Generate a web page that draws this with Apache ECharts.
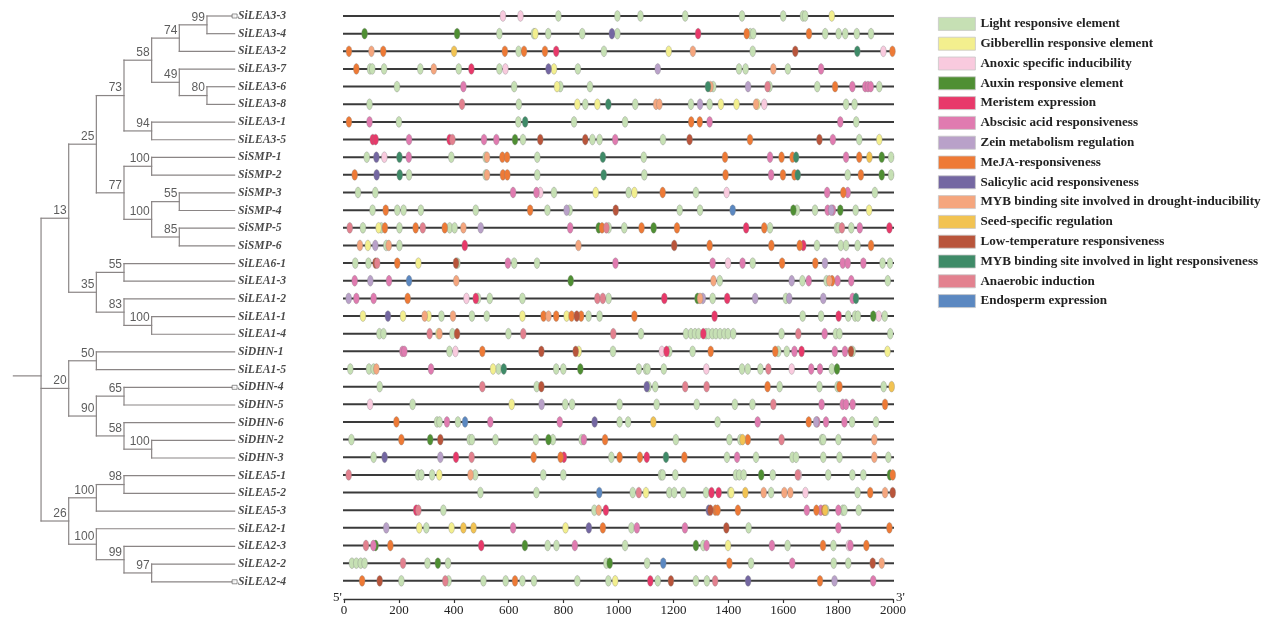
<!DOCTYPE html>
<html><head><meta charset="utf-8">
<script src="https://cdn.jsdelivr.net/npm/echarts@6/dist/echarts.min.js"></script>
<style>html,body{margin:0;padding:0;background:#fff}#c{width:1271px;height:617px}</style>
</head><body><div id="c"></div>
<script>
// ---------------- DATA ----------------
const genes = ['SiLEA3-3','SiLEA3-4','SiLEA3-2','SiLEA3-7','SiLEA3-6','SiLEA3-8','SiLEA3-1','SiLEA3-5',
  'SiSMP-1','SiSMP-2','SiSMP-3','SiSMP-4','SiSMP-5','SiSMP-6','SiLEA6-1','SiLEA1-3','SiLEA1-2','SiLEA1-1',
  'SiLEA1-4','SiDHN-1','SiLEA1-5','SiDHN-4','SiDHN-5','SiDHN-6','SiDHN-2','SiDHN-3','SiLEA5-1','SiLEA5-2',
  'SiLEA5-3','SiLEA2-1','SiLEA2-3','SiLEA2-2','SiLEA2-4'];

const typeCodes = ['L','G','X','A','M','B','Z','J','S','D','E','T','Y','N','O'];
const typeNames = ['Light responsive element','Gibberellin responsive element','Anoxic specific inducibility',
  'Auxin responsive element','Meristem expression','Abscisic acid responsiveness','Zein metabolism regulation',
  'MeJA-responsiveness','Salicylic acid responsiveness','MYB binding site involved in drought-inducibility',
  'Seed-specific regulation','Low-temperature responsiveness','MYB binding site involved in light responsiveness',
  'Anaerobic induction','Endosperm expression'];

// tree topology with bootstrap values (Newick)
const treeNewick = "(((((((SiLEA3-3,SiLEA3-4)99,SiLEA3-2)74,(SiLEA3-7,(SiLEA3-6,SiLEA3-8)80)49)58,(SiLEA3-1,SiLEA3-5)94)73,((SiSMP-1,SiSMP-2)100,((SiSMP-3,SiSMP-4)55,(SiSMP-5,SiSMP-6)85)100)77)25,((SiLEA6-1,SiLEA1-3)55,(SiLEA1-2,(SiLEA1-1,SiLEA1-4)100)83)35)13,((SiDHN-1,SiLEA1-5)50,((SiDHN-4,SiDHN-5)65,(SiDHN-6,(SiDHN-2,SiDHN-3)100)58)90)20,(((SiLEA5-1,SiLEA5-2)98,SiLEA5-3)100,(SiLEA2-1,(SiLEA2-3,(SiLEA2-2,SiLEA2-4)97)99)100)26);";
const markedGenes = ['SiLEA3-3','SiDHN-4','SiLEA2-4'];

const axisMin = 0, axisMax = 2000, axisStep = 200;
const endLabels = ["5'", "3'"];

// element positions per gene (type code + position in bp)
const SiLEA3_3 = "X579 X643 L781 L996 L1080 L1243 L1450 L1600 L1672 L1680 G1777";
const SiLEA3_4 = "A75 A412 L566 L692 G697 L744 L868 S976 L996 M1290 J1467 L1480 L1491 J1694 L1753 L1802 L1826 L1868 L1920";
const SiLEA3_2 = "J18 D100 J143 E401 J586 L636 J656 J732 M773 L947 G1183 D1271 L1489 T1644 Y1870 X1965 J1998";
const SiLEA3_7 = "J45 L95 L103 L146 L278 D327 L418 M464 L566 X588 S745 G765 L852 Z1143 L1439 L1463 D1564 L1617 B1738";
const SiLEA3_6 = "L193 B435 L620 G776 L788 L896 Y1326 D1335 L1345 Z1472 N1543 L1550 L1724 J1789 B1852 B1899 B1909 B1919 L1950";
const SiLEA3_8 = "L93 N430 L637 G850 L879 G923 Y963 L1061 D1137 D1149 L1264 Z1297 L1332 G1373 G1430 D1501 G1506 X1531 L1829 L1860";
const SiLEA3_1 = "J18 B93 L200 L635 Y660 L838 L1024 J1265 J1296 B1332 B1808 L1866";
const SiLEA3_5 = "M105 M115 B237 M385 N395 B510 B555 A623 L652 T715 T879 L905 L931 B988 L1162 T1259 J1479 T1732 B1781 L1877 G1950";
const SiSMP_1 = "L83 S118 X147 Y202 B236 L391 L516 D521 J577 J594 L704 Y943 L1092 J1388 B1552 J1594 J1634 Y1647 B1829 J1877 E1914 A1959 L1993";
const SiSMP_2 = "J39 S119 Y203 L237 L516 D521 J579 J595 L704 Y946 L1094 J1390 B1556 J1599 J1641 Y1653 L1835 J1883 A1959 L1993";
const SiSMP_3 = "L51 L114 B616 B701 X715 L765 G917 L1037 G1058 J1161 L1282 X1394 B1760 J1819 B1835 L1934";
const SiSMP_4 = "L104 J152 L194 L217 L280 L480 J678 L741 Z811 L822 T990 L1223 L1297 O1416 A1637 L1650 L1716 B1762 Z1775 B1781 A1808 L1864 G1913";
const SiSMP_5 = "N21 L69 G126 L136 J149 L202 J261 N287 J367 L385 L403 D435 Z498 B824 A928 J940 N956 L964 L1021 J1084 A1128 J1213 M1465 J1531 L1552 L1796 L1802 N1814 L1848 B1879 M1987";
const SiSMP_6 = "D58 G87 Z114 L154 D163 L202 M440 D854 T1203 J1332 J1557 J1660 M1673 L1723 L1810 L1829 L1871 J1920";
const SiLEA6_1 = "L41 L89 T115 N121 J194 G271 T408 L413 B597 L620 L703 B989 B1343 X1399 B1452 L1489 J1596 J1717 Z1752 B1817 B1835 B1892 L1962 L1989";
const SiLEA1_3 = "B39 Z96 B164 O237 D409 A826 D1346 L1369 Z1631 L1670 B1693 L1758 D1768 J1778 B1798 B1848 L1981";
const SiLEA1_2 = "Z17 B45 B108 J232 X446 M480 L488 L531 L650 N923 N943 L964 M1167 A1288 D1297 Z1307 L1343 M1396 Z1498 L1610 Z1622 Z1746 B1853 Y1865";
const SiLEA1_1 = "G69 S160 G215 D294 G308 L355 D397 L466 L520 G650 J727 D745 J773 G811 J829 T848 J864 L891 L931 J1058 M1350 L1671 L1738 M1802 L1837 L1862 L1872 A1928 X1948 L1970";
const SiLEA1_4 = "L129 L144 N312 G344 D348 L395 T412 L599 N653 N981 L1082 L1246 L1264 L1279 L1292 M1309 L1319 L1328 L1342 L1355 L1370 L1386 L1399 L1418 L1594 N1655 B1751 L1792 L1805 L1990";
const SiDHN_1 = "B213 B220 L384 X406 J504 T719 T844 G855 L980 X1158 M1175 L1185 L1270 J1336 J1571 L1582 L1613 B1641 M1667 B1788 B1825 T1847 L1853 G1980";
const SiLEA1_5 = "L23 L91 L108 D118 B317 G543 L563 Y582 L773 L799 A861 L1074 L1100 L1106 L1165 X1320 L1450 L1471 L1517 N1546 X1631 B1702 B1734 L1777 A1796";
const SiDHN_4 = "L130 N504 L702 T719 S1103 L1109 L1134 N1243 N1321 J1543 L1587 L1732 L1798 J1805 L1966 E1995";
const SiDHN_5 = "X95 L250 G611 Z720 L806 L831 L1004 L1139 L1285 L1424 L1488 N1564 B1740 B1817 B1829 B1853 J1971";
const SiDHN_6 = "J191 L339 L348 B375 L415 O441 B533 B786 S913 L1004 L1035 E1127 L1361 B1507 J1693 Z1720 B1724 B1756 B1823 L1851 L1938";
const SiDHN_2 = "L27 J209 A314 T351 L458 L466 L552 L699 A745 L761 L866 B874 J951 L1209 L1404 L1444 E1452 J1471 N1594 L1741 L1746 L1801 D1932";
const SiDHN_3 = "L108 S148 Z351 M408 N465 J691 J789 M801 L974 J1004 J1078 M1103 Y1173 J1240 L1395 B1432 L1501 L1634 L1647 L1746 L1805 D1932 L1983";
const SiLEA5_1 = "N17 L270 L282 L321 G347 D461 L478 L726 L799 L1155 L1161 L1207 L1428 L1440 L1456 A1520 L1562 N1653 X1657 L1764 L1852 L1892 A1989 J1999";
const SiLEA5_2 = "L497 L701 O930 L1052 N1074 G1100 L1185 L1203 L1236 L1319 M1339 M1365 L1407 G1411 E1462 D1529 L1556 D1604 D1626 X1681 L1871 J1917 D1971 T1999";
const SiLEA5_3 = "M263 N271 L362 L912 D928 M954 S1329 T1335 J1353 J1361 J1435 B1686 J1721 B1737 J1749 E1753 L1757 B1801 L1817 L1823 L1875";
const SiLEA2_1 = "Z154 G274 L300 G392 E435 E472 B616 G807 S892 J943 L1047 B1067 B1242 T1393 L1474 B1801 J1987";
const SiLEA2_3 = "N80 B107 A115 J169 M500 A659 L742 L774 B841 L1024 A1282 L1309 B1321 G1399 B1559 L1616 J1745 L1783 X1839 B1845 J1903";
const SiLEA2_2 = "L29 L45 L61 L75 N215 L304 A342 L379 L956 A968 L1104 O1163 J1404 L1483 B1633 L1784 L1837 T1926 D1959";
const SiLEA2_4 = "J66 T130 L209 N369 L381 L508 L589 J623 L650 L692 L850 L963 G988 M1116 L1143 T1191 L1282 L1322 N1352 S1472 J1734 Z1787 B1928";

const geneElements = [SiLEA3_3,SiLEA3_4,SiLEA3_2,SiLEA3_7,SiLEA3_6,SiLEA3_8,SiLEA3_1,SiLEA3_5,
  SiSMP_1,SiSMP_2,SiSMP_3,SiSMP_4,SiSMP_5,SiSMP_6,SiLEA6_1,SiLEA1_3,SiLEA1_2,SiLEA1_1,SiLEA1_4,
  SiDHN_1,SiLEA1_5,SiDHN_4,SiDHN_5,SiDHN_6,SiDHN_2,SiDHN_3,SiLEA5_1,SiLEA5_2,SiLEA5_3,
  SiLEA2_1,SiLEA2_3,SiLEA2_2,SiLEA2_4];

// ---------------- STYLE ----------------
const typeColors = ['#c6e0b4','#f3ef8e','#f9cade','#4f8f33','#e8396a','#e07bb0','#b9a1c9','#ee7a36',
  '#7467a2','#f5a67e','#f2c352','#b9553b','#3f8b68','#e3818f','#5b88c1'];
const SERIF = "'Liberation Serif','DejaVu Serif',serif";
const SANS = "'Liberation Sans',Arial,sans-serif";
const treeColor = '#8a8585';

// ---------------- TREE LAYOUT ----------------
function parseNewick(s){
  let i = 0;
  function node(){
    const n = {children: [], name: ''};
    if (s[i] === '('){
      i++;
      n.children.push(node());
      while (s[i] === ','){ i++; n.children.push(node()); }
      i++;
    }
    let t = '';
    while (i < s.length && !',();'.includes(s[i])) t += s[i++];
    n.name = t;
    return n;
  }
  return node();
}
const root = parseNewick(treeNewick);
const LEAF_DEPTH = 7;
const segs = [], boots = [], leaves = [];
function layout(n, depth){
  if (!n.children.length){
    n.x = LEAF_DEPTH; n.y = genes.indexOf(n.name);
    leaves.push([n.x, n.y, n.name]);
    return;
  }
  n.x = depth;
  n.children.forEach(c => layout(c, depth + 1));
  const ys = n.children.map(c => c.y);
  n.y = ys.reduce((a, b) => a + b, 0) / ys.length;
  segs.push([n.x, Math.min(...ys), n.x, Math.max(...ys)]);
  n.children.forEach(c => segs.push([n.x, c.y, c.x, c.y]));
  if (n.name) boots.push([n.x, n.y, n.name]);
}
layout(root, 0);
segs.push([-1, root.y, 0, root.y]);
const marks = leaves.filter(l => markedGenes.includes(l[2])).map(l => [l[0], l[1]]);

// ---------------- ELEMENT SERIES ----------------
const byType = typeCodes.map(() => []);
geneElements.forEach((str, row) => {
  str.trim().split(/\s+/).forEach(tok => {
    const k = typeCodes.indexOf(tok[0]);
    byType[k].push([+tok.slice(1), row]);
  });
});
const geneLines = genes.map((g, i) => [axisMin, i, axisMax, i]);

function lineItem(color, width){
  return function(params, api){
    const p1 = api.coord([api.value(0), api.value(1)]);
    const p2 = api.coord([api.value(2), api.value(3)]);
    return {type: 'line', shape: {x1: p1[0], y1: p1[1], x2: p2[0], y2: p2[1]},
      style: {stroke: color, lineWidth: width, lineCap: 'square'}};
  };
}

const yMax = 33.03;
const option = {
  animation: false,
  backgroundColor: '#fff',
  grid: [
    {left: 13.4, top: 16, width: 221.2, height: 584},
    {left: 344, top: 16, width: 549, height: 584}
  ],
  xAxis: [
    {gridIndex: 0, type: 'value', min: -1, max: LEAF_DEPTH, show: false},
    {gridIndex: 1, type: 'value', position: 'bottom', min: axisMin, max: axisMax, interval: axisStep,
      axisLine: {onZero: false, lineStyle: {color: '#333', width: 1.3}},
      axisTick: {length: 4, lineStyle: {color: '#333', width: 1.2}},
      axisLabel: {fontFamily: SERIF, fontSize: 13, color: '#222', margin: 5, formatter: v => String(v)},
      splitLine: {show: false}}
  ],
  yAxis: [
    {gridIndex: 0, type: 'value', min: 0, max: yMax, inverse: true, show: false},
    {gridIndex: 1, type: 'value', min: 0, max: yMax, inverse: true, show: false}
  ],
  legend: {
    data: typeNames, orient: 'vertical', left: 938, top: 17, padding: 0, itemWidth: 37, itemHeight: 13, itemGap: 6.0,
    icon: 'rect', selectedMode: false,
    itemStyle: {borderColor: '#c8c8c8', borderWidth: 0.8},
    textStyle: {fontFamily: SERIF, fontWeight: 'bold', fontSize: 13.1, color: '#222', lineHeight: 13}
  },
  graphic: [
    {type: 'text', left: 333, top: 591, style: {text: endLabels[0], font: "13px 'Liberation Serif'", fill: '#222'}},
    {type: 'text', left: 896, top: 591, style: {text: endLabels[1], font: "13px 'Liberation Serif'", fill: '#222'}}
  ],
  series: [
    {type: 'custom', xAxisIndex: 0, yAxisIndex: 0, data: segs, silent: true,
      encode: {x: [0, 2], y: [1, 3]}, renderItem: lineItem(treeColor, 1.2)},
    {type: 'scatter', xAxisIndex: 0, yAxisIndex: 0, data: boots, silent: true, symbolSize: 1,
      itemStyle: {color: 'rgba(0,0,0,0)'},
      label: {show: true, position: [-1.5, -1], align: 'right', verticalAlign: 'bottom',
        formatter: p => p.value[2], fontFamily: SANS, fontSize: 12, color: '#333'}},
    {type: 'scatter', xAxisIndex: 0, yAxisIndex: 0, data: leaves, silent: true, symbolSize: 1,
      itemStyle: {color: 'rgba(0,0,0,0)'},
      label: {show: true, position: 'right', distance: 3, formatter: p => p.value[2],
        fontFamily: SERIF, fontStyle: 'italic', fontWeight: 'bold', fontSize: 11.7, color: '#1a1a1a'}},
    {type: 'scatter', xAxisIndex: 0, yAxisIndex: 0, data: marks, silent: true, symbol: 'rect',
      symbolSize: [5, 4], itemStyle: {color: '#fff', borderColor: '#555', borderWidth: 0.8}, z: 3},
    {type: 'custom', xAxisIndex: 1, yAxisIndex: 1, data: geneLines, silent: true,
      encode: {x: [0, 2], y: [1, 3]}, renderItem: lineItem('#3a3a3a', 2)}
  ].concat(typeNames.map((name, k) => ({
    type: 'scatter', name: name, xAxisIndex: 1, yAxisIndex: 1, data: byType[k], silent: true,
    symbol: 'circle', symbolSize: [5.8, 10.8], z: 3,
    itemStyle: {color: typeColors[k], borderColor: 'rgba(130,130,130,0.55)', borderWidth: 0.6, opacity: 1}
  })))
};
const chart = echarts.init(document.getElementById('c'), null, {renderer: 'canvas'});
chart.setOption(option);
</script></body></html>
